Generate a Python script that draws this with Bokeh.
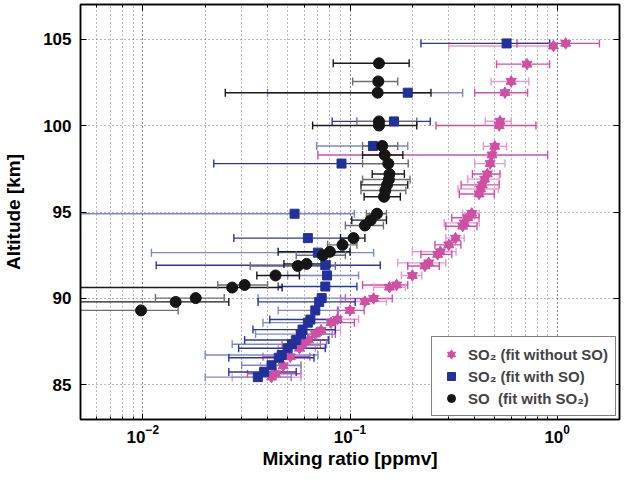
import numpy as np
from bokeh.plotting import figure
from bokeh.models import (ColumnDataSource, LogAxis, LinearAxis, FixedTicker,
                          Legend, LegendItem)
from bokeh.embed import file_html
from bokeh.resources import INLINE

# ---------------- data ----------------
# SO2 (fit without SO): altitude [km], mixing ratio [ppmv], error-bar low / high
so2_nso_alt = [104.75, 104.6, 103.55, 102.55, 101.9, 100.25, 100.0, 98.8, 98.3, 97.8,
               97.2, 96.9, 96.57, 96.33, 96.04, 94.92, 94.67, 94.37, 94.18, 93.49,
               93.1, 92.7, 92.55, 92.06, 91.88, 91.33, 90.78, 90.65, 90.0, 89.82,
               89.31, 88.8, 88.6, 88.16, 87.94, 87.6, 87.31, 87.12, 86.63, 86.1,
               85.65, 85.45]
so2_nso_val = [1.10, 0.96, 0.715, 0.60, 0.56, 0.53, 0.525, 0.50, 0.485, 0.475,
               0.46, 0.447, 0.435, 0.427, 0.42, 0.387, 0.37, 0.356, 0.35, 0.323,
               0.30, 0.273, 0.265, 0.24, 0.23, 0.20, 0.168, 0.155, 0.13, 0.118,
               0.10, 0.087, 0.081, 0.0725, 0.068, 0.063, 0.059, 0.057, 0.0515, 0.0476,
               0.0437, 0.0418]
so2_nso_lo = [0.64, 0.30, 0.51, 0.48, 0.40, 0.45, 0.26, 0.44, 0.07, 0.40,
              0.39, 0.37, 0.344, 0.332, 0.337, 0.35, 0.31, 0.285, 0.29, 0.29,
              0.257, 0.20, 0.22, 0.17, 0.19, 0.177, 0.115, 0.13, 0.09, 0.09,
              0.087, 0.066, 0.063, 0.057, 0.055, 0.052, 0.047, 0.045, 0.038, 0.037,
              0.032, 0.027]
so2_nso_hi = [1.60, 0.92, 0.92, 0.73, 0.72, 0.60, 0.79, 0.57, 0.90, 0.56,
              0.53, 0.525, 0.525, 0.52, 0.497, 0.42, 0.42, 0.42, 0.41, 0.356,
              0.343, 0.325, 0.31, 0.29, 0.27, 0.222, 0.19, 0.185, 0.16, 0.15,
              0.117, 0.11, 0.105, 0.09, 0.085, 0.078, 0.072, 0.068, 0.064, 0.058,
              0.058, 0.058]

# SO2 (fit with SO)
so2_wso_alt = [104.75, 101.9, 100.24, 98.82, 97.8, 94.9, 93.49, 92.65, 91.92, 91.33,
               90.69, 90.02, 89.8, 89.31, 88.78, 88.6, 88.2, 87.94, 87.6, 87.35,
               87.12, 86.73, 86.57, 86.14, 85.75, 85.45]
so2_wso_val = [0.57, 0.19, 0.163, 0.129, 0.091, 0.054, 0.0626, 0.070, 0.076, 0.0775,
               0.076, 0.073, 0.071, 0.068, 0.0644, 0.0626, 0.059, 0.058, 0.055, 0.0524,
               0.050, 0.0468, 0.0453, 0.0418, 0.0385, 0.0359]
so2_wso_lo = [0.22, 0.04, 0.082, 0.069, 0.022, 0.003, 0.0275, 0.011, 0.0116, 0.05,
              0.045, 0.036, 0.036, 0.045, 0.041, 0.038, 0.034, 0.035, 0.031, 0.027,
              0.029, 0.020, 0.026, 0.030, 0.026, 0.020]
so2_wso_hi = [0.92, 0.35, 0.244, 0.19, 0.16, 0.105, 0.10, 0.13, 0.14, 0.11,
              0.108, 0.095, 0.106, 0.088, 0.09, 0.085, 0.085, 0.082, 0.079, 0.077,
              0.076, 0.070, 0.067, 0.058, 0.055, 0.052]

# SO (fit with SO2)
so_alt = [103.6, 102.55, 101.9, 100.24, 100.0, 98.82, 98.3, 97.8, 97.2, 96.88,
          96.57, 96.24, 95.88, 94.9, 94.53, 94.22, 93.49, 93.1, 92.7, 92.5,
          92.0, 91.88, 91.33, 90.78, 90.63, 90.02, 89.8, 89.31]
so_val = [0.138, 0.137, 0.136, 0.138, 0.138, 0.143, 0.147, 0.153, 0.155, 0.154,
          0.151, 0.148, 0.146, 0.135, 0.126, 0.118, 0.104, 0.092, 0.080, 0.074,
          0.0617, 0.056, 0.0437, 0.031, 0.027, 0.018, 0.0144, 0.0098]
so_lo = [0.083, 0.103, 0.025, 0.108, 0.066, 0.115, 0.115, 0.115, 0.128, 0.115,
         0.113, 0.113, 0.117, 0.12, 0.102, 0.095, 0.09, 0.078, 0.045, 0.055,
         0.048, 0.033, 0.0355, 0.023, 0.003, 0.0115, 0.004, 0.004]
so_hi = [0.193, 0.17, 0.246, 0.21, 0.21, 0.17, 0.18, 0.191, 0.183, 0.195,
         0.19, 0.186, 0.175, 0.15, 0.15, 0.145, 0.118, 0.108, 0.10, 0.095,
         0.08, 0.085, 0.057, 0.040, 0.047, 0.0247, 0.026, 0.0148]

legend_labels = ["SO\u2082 (fit without SO)", "SO\u2082 (fit with SO)", "SO  (fit with SO\u2082)"]
x_label = "Mixing ratio [ppmv]"
y_label = "Altitude [km]"
y_ticks = [85, 90, 95, 100, 105]

# ---------------- figure ----------------
FONT = "Liberation Sans"
p = figure(width=621, height=471, x_axis_type="log", x_range=(0.005, 2.0),
           y_range=(83, 107), output_backend="svg", toolbar_location=None,
           min_border_left=71, min_border_right=2, min_border_top=4,
           min_border_bottom=0)
p.background_fill_color = "white"
p.border_fill_color = "white"
p.outline_line_color = "black"
p.outline_line_width = 1.5

def style_axis(ax, labels=True):
    ax.axis_line_color = "black"
    ax.axis_line_width = 1.5
    ax.major_tick_in = 6
    ax.major_tick_out = 0
    ax.minor_tick_in = 3
    ax.minor_tick_out = 0
    ax.major_tick_line_color = "black"
    ax.minor_tick_line_color = "black"
    ax.major_label_text_font = FONT
    ax.major_label_text_font_style = "bold"
    if labels:
        ax.major_label_text_font_size = "17px"
        ax.major_label_text_color = "black"
    else:
        ax.major_label_text_font_size = "0px"
        ax.major_label_text_color = None
        ax.major_label_standoff = 0
        ax.axis_label_standoff = 0

style_axis(p.xaxis[0])
style_axis(p.yaxis[0])
p.xaxis[0].axis_label = x_label
p.yaxis[0].axis_label = y_label
for ax in (p.xaxis[0], p.yaxis[0]):
    ax.axis_label_text_font = FONT
    ax.axis_label_text_font_style = "bold"
    ax.axis_label_text_font_size = "19px"
    ax.axis_label_text_color = "black"
p.xaxis[0].major_label_standoff = 5
p.xaxis[0].axis_label_standoff = 2
p.yaxis[0].major_label_standoff = 9
p.yaxis[0].axis_label_standoff = 16
p.yaxis[0].ticker = FixedTicker(ticks=y_ticks)
p.yaxis[0].minor_tick_line_color = None

top = LogAxis()
style_axis(top, labels=False)
p.add_layout(top, "above")
right = LinearAxis(ticker=FixedTicker(ticks=y_ticks))
style_axis(right, labels=False)
right.minor_tick_line_color = None
p.add_layout(right, "right")

p.xgrid.grid_line_color = "#777777"
p.xgrid.grid_line_dash = "1 3"
p.xgrid.minor_grid_line_color = "#777777"
p.xgrid.minor_grid_line_dash = "1 3"
p.ygrid.grid_line_color = "#777777"
p.ygrid.grid_line_dash = "1 3"
p.ygrid.ticker = FixedTicker(ticks=y_ticks)

def errbars(alt, val, lo, hi, dark, light):
    cols = [dark if i % 2 == 0 else light for i in range(len(alt))]
    src = ColumnDataSource(dict(y=alt, x=val, lo=lo, hi=hi, c=cols))
    p.segment(x0="lo", x1="hi", y0="y", y1="y", line_color="c", line_width=1.4, source=src)
    p.dash(x="lo", y="y", size=8, angle=np.pi / 2, line_color="c", line_width=1.4, source=src)
    p.dash(x="hi", y="y", size=8, angle=np.pi / 2, line_color="c", line_width=1.4, source=src)
    return src

PINK = "#CF4FA3"
BLUE = "#22319A"
BLACK = "#151515"
s_pink = errbars(so2_nso_alt, so2_nso_val, so2_nso_lo, so2_nso_hi, "#D24FA6", "#E59BCB")
s_blue = errbars(so2_wso_alt, so2_wso_val, so2_wso_lo, so2_wso_hi, "#2A37A0", "#7E88C8")
s_blk = errbars(so_alt, so_val, so_lo, so_hi, "#1A1A1A", "#6E6E6E")

r_t1 = p.scatter(x="x", y="y", source=s_pink, marker="triangle", size=10,
                 fill_color=PINK, line_color=PINK, line_width=1)
r_t2 = p.scatter(x="x", y="y", source=s_pink, marker="inverted_triangle", size=10,
                 fill_color=PINK, line_color=PINK, line_width=1)
r_sq = p.scatter(x="x", y="y", source=s_blue, marker="square", size=9,
                 fill_color=BLUE, line_color=BLUE)
r_ci = p.scatter(x="x", y="y", source=s_blk, marker="circle", size=11,
                 fill_color=BLACK, line_color=BLACK)

legend = Legend(items=[LegendItem(label=legend_labels[0], renderers=[r_t1, r_t2]),
                       LegendItem(label=legend_labels[1], renderers=[r_sq]),
                       LegendItem(label=legend_labels[2], renderers=[r_ci])],
                location="bottom_right")
legend.margin = 3
legend.padding = 7
legend.spacing = 2
legend.label_text_font = FONT
legend.label_text_font_style = "bold"
legend.label_text_font_size = "15px"
legend.border_line_color = "black"
legend.border_line_width = 1.5
legend.background_fill_alpha = 1
legend.glyph_width = 24
p.add_layout(legend)

open("out.html", "w").write(file_html(p, INLINE))
